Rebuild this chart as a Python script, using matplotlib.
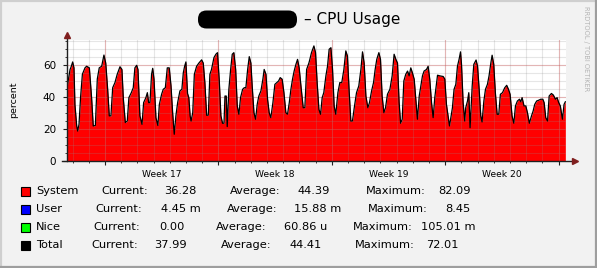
import numpy as np
import matplotlib
matplotlib.use("Agg")
import matplotlib.pyplot as plt
from matplotlib.patches import Rectangle, FancyBboxPatch

# time in days since the left edge of the graph, system CPU in percent
days = [
    0.00, 0.19, 0.25, 0.35, 0.43, 0.49, 0.60, 0.66, 0.74, 0.84, 0.95, 1.11, 1.21, 1.38,
    1.52, 1.62, 1.75, 1.87, 1.99, 2.14, 2.28, 2.39, 2.51, 2.61, 2.71, 2.82, 2.96, 3.10,
    3.27, 3.39, 3.48, 3.60, 3.72, 3.82, 3.97, 4.09, 4.19, 4.30, 4.38, 4.50, 4.63, 4.73,
    4.87, 4.96, 5.04, 5.12, 5.22, 5.29, 5.37, 5.49, 5.61, 5.70, 5.84, 5.94, 6.07, 6.19,
    6.31, 6.42, 6.52, 6.62, 6.72, 6.83, 6.97, 7.09, 7.18, 7.26, 7.34, 7.44, 7.52, 7.60,
    7.66, 7.76, 7.86, 8.00, 8.14, 8.31, 8.41, 8.51, 8.62, 8.72, 8.82, 8.92, 9.07, 9.19,
    9.29, 9.40, 9.50, 9.60, 9.69, 9.75, 9.83, 9.89, 9.99, 10.10, 10.20, 10.30, 10.41,
    10.51, 10.61, 10.71, 10.84, 10.94, 11.04, 11.15, 11.25, 11.35, 11.43, 11.54, 11.64,
    11.74, 11.84, 11.97, 12.09, 12.17, 12.28, 12.38, 12.48, 12.58, 12.71, 12.83, 12.95,
    13.06, 13.16, 13.28, 13.39, 13.51, 13.61, 13.72, 13.82, 13.92, 14.02, 14.13, 14.23,
    14.33, 14.44, 14.58, 14.68, 14.79, 14.93, 14.99, 15.09, 15.24, 15.34, 15.44, 15.55,
    15.65, 15.75, 15.85, 15.98, 16.08, 16.18, 16.29, 16.39, 16.49, 16.59, 16.72, 16.84,
    16.96, 17.09, 17.21, 17.31, 17.42, 17.52, 17.62, 17.73, 17.87, 18.01, 18.14, 18.24,
    18.34, 18.45, 18.57, 18.67, 18.80, 18.92, 19.02, 19.12, 19.25, 19.35, 19.45, 19.56,
    19.66, 19.78, 19.93, 20.07, 20.19, 20.30, 20.40, 20.50, 20.59, 20.69, 20.79, 20.91,
    21.02, 21.12, 21.22, 21.32, 21.43, 21.53, 21.63, 21.74, 21.84, 21.94, 22.04, 22.19,
    22.29, 22.39, 22.50, 22.60, 22.70, 22.87, 23.01, 23.22, 23.32, 23.42, 23.52, 23.61,
    23.69, 23.79, 23.89, 24.00, 24.10, 24.20, 24.29, 24.35, 24.45, 24.55, 24.61, 24.72,
    24.80, 24.88, 25.01, 25.11, 25.25, 25.34, 25.44, 25.54, 25.62, 25.73, 25.83, 25.95,
    26.05, 26.16, 26.24, 26.34, 26.44, 26.55, 26.65, 26.75, 26.88, 27.02, 27.14, 27.25,
    27.35, 27.47, 27.58, 27.68, 27.80, 27.93, 28.01, 28.09, 28.21, 28.32, 28.42, 28.54,
    28.67, 28.77, 28.87, 28.99, 29.12, 29.24, 29.37, 29.45, 29.55, 29.66, 29.76, 29.90,
    30.02, 30.15, 30.25, 30.35, 30.45, 30.58, 30.68, 30.76,
]
system_pct = [
    45.6, 57.0, 58.5, 61.7, 58.0, 35.0, 21.7, 18.5, 22.7, 40.0, 54.0, 58.0, 59.0, 58.0,
    39.0, 21.7, 22.0, 51.0, 58.0, 59.0, 66.0, 61.0, 44.6, 28.0, 28.0, 45.6, 48.8, 54.0,
    58.7, 57.0, 38.4, 23.8, 24.8, 39.4, 42.5, 45.6, 58.0, 59.6, 57.0, 28.0, 22.7, 36.3,
    39.4, 42.5, 36.3, 36.3, 54.0, 57.7, 51.0, 26.9, 22.0, 35.2, 41.5, 44.6, 45.6, 58.0,
    58.0, 46.7, 30.0, 16.5, 28.0, 36.3, 43.6, 44.6, 55.0, 59.0, 61.7, 42.0, 39.4, 28.0,
    24.8, 30.0, 54.0, 59.0, 61.0, 63.0, 61.0, 48.8, 28.4, 28.4, 54.0, 57.0, 64.4, 66.5,
    67.5, 49.8, 28.0, 23.4, 23.4, 40.4, 40.4, 21.3, 44.6, 57.0, 66.5, 67.5, 57.0,
    34.2, 29.0, 39.4, 44.6, 45.6, 45.6, 57.0, 65.0, 61.0, 46.7, 30.0, 25.9,
    35.2, 40.4, 43.6, 50.9, 57.0, 54.0, 38.4, 30.0, 26.9, 36.3, 47.7, 48.8,
    49.8, 51.9, 50.9, 42.5, 30.0, 29.0, 36.3, 44.6, 50.9, 56.0, 60.2, 63.3,
    58.0, 46.7, 33.1, 33.1, 57.0, 61.0, 63.3, 67.5, 71.7, 67.5, 48.8, 32.0,
    29.0, 39.4, 42.5, 53.0, 59.0, 69.6, 70.6, 57.0, 34.2, 29.0, 42.5, 48.8,
    48.8, 57.0, 68.6, 65.4, 42.5, 24.8, 24.8, 33.1, 42.5, 46.7, 57.0, 68.0,
    61.0, 40.4, 33.1, 36.3, 43.6, 48.8, 57.0, 63.3, 67.5, 63.3, 40.4, 30.0,
    33.1, 41.5, 44.6, 53.0, 66.5, 63.3, 61.0, 36.3, 23.4, 25.9, 49.8, 54.0,
    56.0, 53.0, 58.0, 54.9, 50.9, 38.4, 25.9, 40.4, 46.7, 53.0, 56.0, 57.0,
    59.0, 50.9, 36.3, 26.9, 39.4, 53.4, 53.0, 52.6, 51.0, 35.2, 28.0, 21.7,
    26.9, 33.1, 44.6, 47.7, 59.0, 63.3, 68.0, 60.2, 36.3, 24.8, 33.1, 37.3,
    42.5, 20.6, 46.7, 60.2, 62.9, 59.0, 44.6, 28.0, 24.2, 37.3, 44.6, 47.7,
    53.0, 61.0, 65.9, 60.2, 42.5, 29.0, 29.0, 41.5, 42.5, 45.6, 47.1, 44.6,
    41.5, 28.0, 23.4, 34.2, 37.3, 38.4, 36.8, 39.4, 34.2, 34.2, 30.0, 23.4,
    28.0, 31.0, 35.2, 37.3, 37.8, 38.4, 38.4, 36.3, 26.9, 24.8, 40.4, 42.0,
    41.0, 38.4, 39.4, 36.3, 34.2, 25.9, 35.2, 36.8,
]

week_numbers = [17, 18, 19, 20]
first_week_start = 2.34  # day offset of the first week boundary
span_days = 30.8
y_top = 75.4
y_ticks = [0, 20, 40, 60]

legend_names = ["System", "User", "Nice", "Total"]
legend_colors = ["#FF0000", "#0000FF", "#00FF00", "#000000"]
current_vals = ["36.28", "4.45 m", "0.00", "37.99"]
average_vals = ["44.39", "15.88 m", "60.86 u", "44.41"]
maximum_vals = ["82.09", "8.45", "105.01 m", "72.01"]

# rrdtool default colours
BACK = "#F2F2F2"
SHADE_A = "#CFCFCF"
SHADE_B = "#9E9E9E"
GRID = (0.56, 0.56, 0.56, 0.22)
MGRID = (0.87, 0.31, 0.31, 0.32)
ARROW = (0.50, 0.12, 0.12)
AXIS = "#1F1F1F"

W, H = 597, 268
fig = plt.figure(figsize=(W / 100, H / 100), dpi=100, facecolor=BACK)

# overlay in pixel coordinates for frame, title and legend
bg = fig.add_axes([0, 0, 1, 1], zorder=-1)
bg.set_xlim(0, W)
bg.set_ylim(H, 0)
bg.axis("off")
bg.plot([0, W], [0.8, 0.8], color=SHADE_A, lw=1.6)
bg.plot([0.8, 0.8], [0, H], color=SHADE_A, lw=1.6)
bg.plot([0, W], [H - 0.8, H - 0.8], color=SHADE_B, lw=1.6)
bg.plot([W - 0.8, W - 0.8], [0, H], color=SHADE_B, lw=1.6)

bg.add_patch(FancyBboxPatch((198, 10.5), 99, 18, boxstyle="round,pad=0,rounding_size=8.5",
                            fc="black", ec="none"))
bg.text(303.5, 19.5, "\u2013 CPU Usage", fontsize=11, ha="left", va="center", color="black")
bg.text(586, 6, "RRDTOOL / TOBI OETIKER", fontsize=4.8, rotation=270, ha="center", va="top",
        color="#B4B4B4")
bg.text(14, 100, "percent", fontsize=6.8, rotation=90, ha="center", va="center")

# legend rows
row_y = [191.5, 209.5, 227.5, 245.5]
cur_lab_x = [101, 95, 93, 91]
cur_val_x = [164, 161, 159, 154]
avg_lab_x = [230, 227, 216, 221]
avg_val_x = [298, 294, 284, 289]
max_lab_x = [366, 368, 353, 355]
max_val_x = [438, 445, 421, 426]
fs = 8.2
for i, name in enumerate(legend_names):
    y = row_y[i]
    bg.add_patch(Rectangle((20.5, y - 4.5), 9, 9, fc=legend_colors[i], ec="black", lw=0.8))
    bg.text(36, y, name, fontsize=fs, va="center")
    bg.text(cur_lab_x[i], y, "Current:", fontsize=fs, va="center")
    bg.text(cur_val_x[i], y, current_vals[i], fontsize=fs, va="center")
    bg.text(avg_lab_x[i], y, "Average:", fontsize=fs, va="center")
    bg.text(avg_val_x[i], y, average_vals[i], fontsize=fs, va="center")
    bg.text(max_lab_x[i], y, "Maximum:", fontsize=fs, va="center")
    bg.text(max_val_x[i], y, maximum_vals[i], fontsize=fs, va="center")

# graph area
ax = fig.add_axes([67 / W, 1 - 160.7 / H, 499 / W, 120.7 / H])
ax.set_facecolor("white")
ax.set_xlim(0, span_days)
ax.set_ylim(0, y_top)
for s in ax.spines.values():
    s.set_visible(False)

ax.fill_between(days, system_pct, 0, color="#FF0000", lw=0, zorder=1)
ax.plot(days, system_pct, color="black", lw=0.9, zorder=4)

# grid on top of the area, like rrdtool
day_lines = np.arange(first_week_start % 1, span_days, 1.0)
week_lines = np.arange(first_week_start, span_days, 7.0)
for d in day_lines:
    ax.axvline(d, color=GRID, lw=0.8, zorder=2)
for d in week_lines:
    ax.axvline(d, color=MGRID, lw=0.8, zorder=3)
for v in np.arange(5, y_top, 5):
    ax.axhline(v, color=GRID, lw=0.8, zorder=2)
for v in y_ticks[1:]:
    ax.axhline(v, color=MGRID, lw=0.8, zorder=3)

# axes with arrows
ax.plot([0, 0], [0, 78.0], color=AXIS, lw=1.0, clip_on=False, zorder=5)
ax.plot([-0.3, 31.2], [0, 0], color=AXIS, lw=1.0, clip_on=False, zorder=5)
ax.plot([0], [78.6], marker="^", ms=4, color=ARROW, clip_on=False, zorder=6)
ax.plot([31.35], [0], marker=">", ms=4, color=ARROW, clip_on=False, zorder=6)

ax.set_yticks(y_ticks)
ax.set_yticklabels([str(v) for v in y_ticks], fontsize=7.5)
ax.set_yticks(np.arange(0, y_top, 5), minor=True)
ax.tick_params(axis="y", which="major", length=3, width=0.8, color=AXIS, pad=5)
ax.tick_params(axis="y", which="minor", length=1.5, width=0.6, color=AXIS)
ax.set_xticks(week_lines)
ax.set_xticklabels([])
ax.set_xticks(day_lines, minor=True)
ax.tick_params(axis="x", which="major", length=3, width=0.8, color=AXIS)
ax.tick_params(axis="x", which="minor", length=1.5, width=0.6, color=AXIS)

for i, wk in enumerate(week_numbers):
    ax.text(first_week_start + 3.5 + 7 * i, -0.115, "Week %d" % wk, fontsize=6.6,
            ha="center", va="center", transform=ax.get_xaxis_transform())

fig.savefig("out.png", dpi=100, facecolor=BACK)
